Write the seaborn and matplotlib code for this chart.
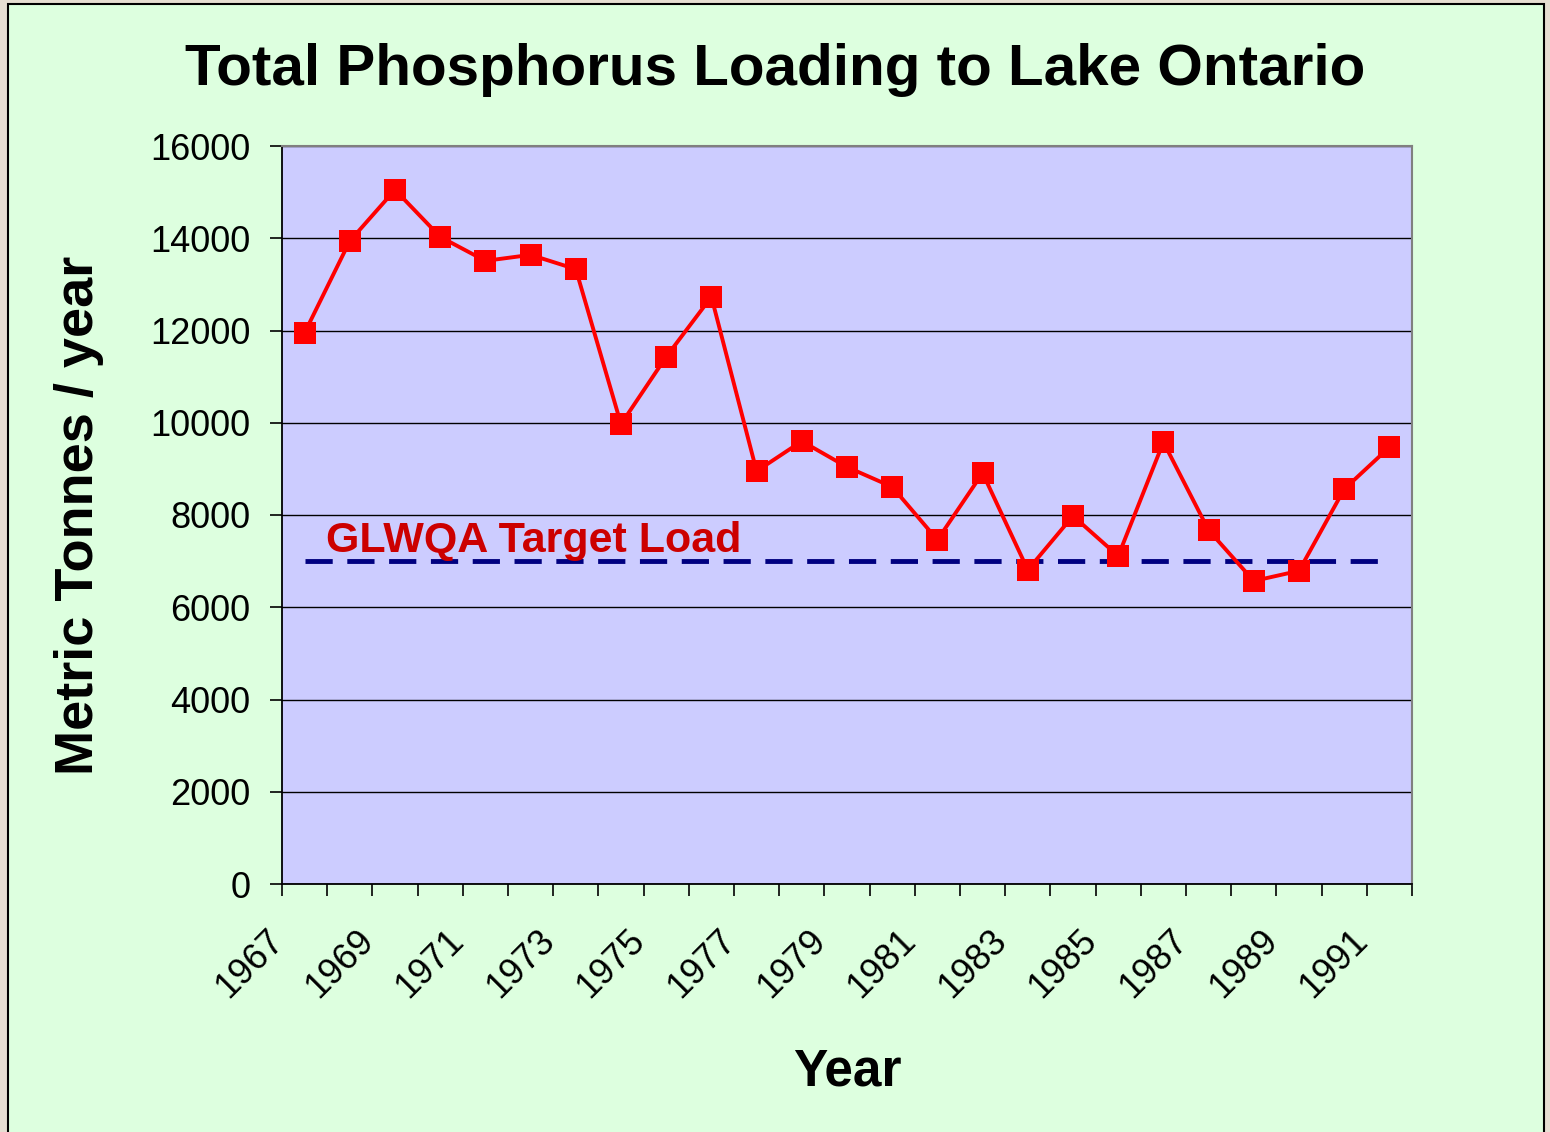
import numpy as np
import pandas as pd
import matplotlib
matplotlib.use('Agg')
import matplotlib.pyplot as plt
import matplotlib.transforms as mtransforms
from matplotlib.patches import Rectangle
import seaborn as sns

years = list(range(1967, 1992))
loads = [11950, 13940, 15050, 14030, 13510, 13640, 13330, 9970, 11430, 12730,
         8950, 9600, 9040, 8610, 7460, 8910, 6810, 7980, 7110, 9580,
         7670, 6570, 6790, 8560, 9470]
target_load = 7000
label_years = [str(y) for y in years[::2]]

sns.set_style('white')
plt.rcParams['font.family'] = ['Liberation Sans', 'DejaVu Sans']
plt.rcParams['text.color'] = 'black'
plt.rcParams['axes.labelcolor'] = 'black'
plt.rcParams['xtick.color'] = 'black'
plt.rcParams['ytick.color'] = 'black'

df = pd.DataFrame({'pos': np.arange(len(years)) + 0.5, 'load': loads})

fig = plt.figure(figsize=(15.5, 11.32), dpi=100, facecolor='#E6DED2')
# green slide panel
fig.patches.append(Rectangle((8 / 1550, -0.01), 1536 / 1550, 1 - 4 / 1132 + 0.01,
                             transform=fig.transFigure, facecolor='#DDFFDF',
                             edgecolor='black', linewidth=1.5, zorder=-5))

ax = fig.add_axes([282 / 1550, 1 - 884 / 1132, 1130 / 1550, 738 / 1132])
ax.set_zorder(2)
ax.set_facecolor('#CCCCFF')

sns.lineplot(data=df, x='pos', y='load', ax=ax, color='#FF0000', linewidth=2.8,
             marker='s', markersize=16, markeredgewidth=0, zorder=4)

ax.plot([df['pos'].iloc[0], df['pos'].iloc[-1]], [target_load, target_load],
        color='#000080', linewidth=3.5, dashes=(5.6, 3.0), zorder=3)
ax.text(0.97, 7200, 'GLWQA Target Load', color='#CC0000', fontsize=31,
        fontweight='bold', va='baseline', ha='left', zorder=5)

ax.set_xlim(0, len(years))
ax.set_ylim(0, 16000)
ax.set_yticks(np.arange(0, 16001, 2000))
ax.yaxis.grid(True, color='black', linewidth=1)
ax.set_axisbelow(True)

ax.set_xticks(np.arange(0, len(years) + 1), minor=True)
ax.set_xticks(df['pos'].iloc[::2])
ax.set_xticklabels(label_years, rotation=45, ha='right', va='top', rotation_mode='anchor')
ax.tick_params(axis='x', which='major', length=0, pad=28, labelsize=26)
ax.tick_params(axis='x', which='minor', length=8.6, width=1.2, color='black', direction='out', bottom=True)
ax.tick_params(axis='y', length=8.6, width=1.2, color='black', direction='out', left=True, labelsize=26, pad=14)

shift = mtransforms.ScaledTranslation(-39 / 100, 0, fig.dpi_scale_trans)
for lab in ax.get_xticklabels():
    lab.set_transform(lab.get_transform() + shift)

for s in ['left', 'bottom']:
    ax.spines[s].set_color('black')
    ax.spines[s].set_linewidth(1.3)
for s in ['top', 'right']:
    ax.spines[s].set_color('#808080')
    ax.spines[s].set_linewidth(1.5)

ax.set_xlabel('Year', fontsize=37, fontweight='bold', labelpad=31)
ax.set_ylabel('Metric Tonnes / year', fontsize=39, fontweight='bold', labelpad=33)
fig.text(0.5, 1 - 70 / 1132, 'Total Phosphorus Loading to Lake Ontario',
         fontsize=42, fontweight='bold', ha='center', va='center')

fig.savefig('out.png', dpi=100, facecolor=fig.get_facecolor())
